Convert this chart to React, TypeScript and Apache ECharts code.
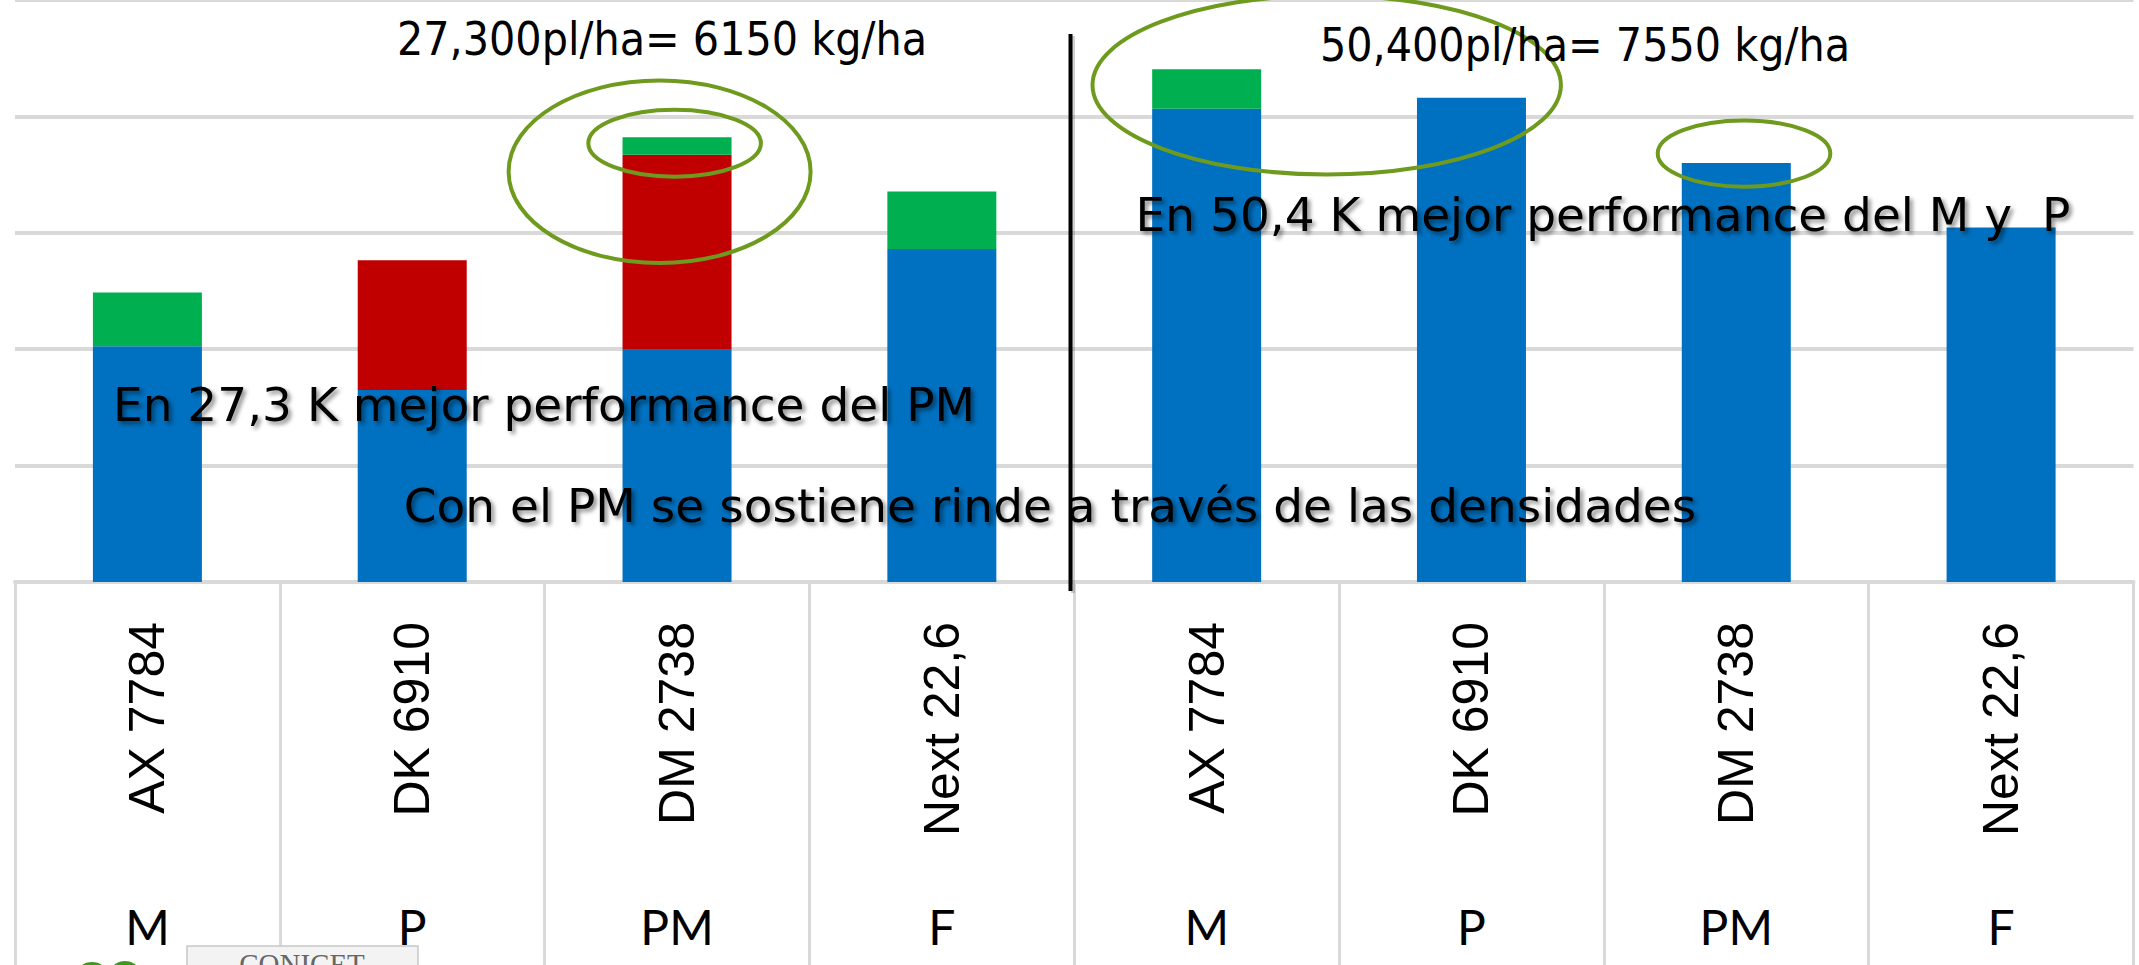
import React, { useEffect, useRef } from "react";
import * as echarts from "echarts";

const hybrids = ["AX 7784", "DK 6910", "DM 2738", "Next 22,6", "AX 7784", "DK 6910", "DM 2738", "Next 22,6"];
const types = ["M", "P", "PM", "F", "M", "P", "PM", "F"];
const blueValues = [4050, 3300, 3990, 5720, 8130, 8320, 7200, 6090];
const redValues = [0, 2230, 3350, 0, 0, 0, 0, 0];
const greenValues = [925, 0, 300, 990, 680, 0, 0, 0];
const yMax = 10000;
const yStep = 2000;

const title1 = "27,300pl/ha= 6150 kg/ha";
const title2 = "50,400pl/ha= 7550 kg/ha";
const note1 = "En 27,3 K mejor performance del PM";
const note2 = "Con el PM se sostiene rinde a través de las densidades";
const note3 = "En 50,4 K mejor performance del M y  P";

const GRID = "#d9d9d9";
const OLIVE = "#6E9A1E";

export default function App() {
  const ref = useRef<HTMLDivElement>(null);
  useEffect(() => {
    document.body.style.margin = "0";
    const chart = echarts.init(ref.current!, null, { renderer: "svg" });
    const shadowText = (text: string, x: number, y: number) => ({
      type: "text",
      x,
      y,
      z: 120,
      style: {
        text,
        fontSize: 47,
        fontFamily: "DejaVu Sans",
        fill: "#000",
        align: "center",
        verticalAlign: "middle",
        textShadowColor: "rgba(0,0,0,0.45)",
        textShadowBlur: 4,
        textShadowOffsetX: 3,
        textShadowOffsetY: 3,
      },
    });
    const ell = (cx: number, cy: number, rx: number, ry: number) => ({
      type: "ellipse",
      z: 110,
      shape: { cx, cy, rx, ry },
      style: { fill: "none", stroke: OLIVE, lineWidth: 4 },
    });
    chart.setOption({
      animation: false,
      backgroundColor: "#ffffff",
      grid: { left: 15, right: 5.5, top: -2, bottom: 383, containLabel: false },
      xAxis: [
        {
          type: "category",
          data: hybrids,
          position: "bottom",
          axisLine: { show: true, lineStyle: { color: GRID, width: 4 } },
          axisTick: { show: true, interval: 0, length: 383, lineStyle: { color: GRID, width: 3 } },
          axisLabel: {
            interval: 0,
            rotate: 90,
            margin: 40,
            fontSize: 50,
            fontFamily: "Liberation Sans",
            color: "#000",
          },
          splitLine: { show: false },
        },
        {
          type: "category",
          data: types,
          position: "bottom",
          offset: 0,
          axisLine: { show: false },
          axisTick: { show: false },
          axisLabel: {
            interval: 0,
            margin: 344,
            verticalAlign: "middle",
            fontSize: 48,
            fontFamily: "Lato",
            color: "#000",
          },
          splitLine: { show: false },
        },
      ],
      yAxis: {
        type: "value",
        min: 0,
        max: yMax,
        interval: yStep,
        axisLine: { show: false },
        axisTick: { show: false },
        axisLabel: { show: false },
        splitLine: { show: true, lineStyle: { color: GRID, width: 4 } },
      },
      series: [
        { name: "base", type: "bar", stack: "t", barWidth: 109, data: blueValues, itemStyle: { color: "#0070C0" } },
        { name: "red", type: "bar", stack: "t", barWidth: 109, data: redValues, itemStyle: { color: "#C00000" } },
        { name: "green", type: "bar", stack: "t", barWidth: 109, data: greenValues, itemStyle: { color: "#00B050" } },
      ],
      graphic: [
        {
          type: "text",
          x: 662,
          y: 39,
          z: 120,
          style: { text: title1, fontSize: 46, fontFamily: "DejaVu Sans Condensed", fill: "#000", align: "center", verticalAlign: "middle" },
        },
        {
          type: "text",
          x: 1585,
          y: 45,
          z: 120,
          style: { text: title2, fontSize: 46, fontFamily: "DejaVu Sans Condensed", fill: "#000", align: "center", verticalAlign: "middle" },
        },
        shadowText(note1, 544, 404),
        shadowText(note2, 1050, 505),
        shadowText(note3, 1603, 214),
        {
          type: "rect",
          z: 114,
          shape: { x: 1071, y: 36, width: 4, height: 557 },
          style: { fill: "rgba(0,0,0,0.18)" },
        },
        {
          type: "rect",
          z: 115,
          shape: { x: 1068.5, y: 34, width: 4, height: 557 },
          style: { fill: "#000" },
        },
        ell(659.6, 171.7, 151, 91.3),
        ell(674.6, 143.3, 86.3, 33.5),
        ell(1326.7, 85, 234.2, 89.5),
        ell(1744, 153.6, 86.3, 33.1),
        {
          type: "rect",
          z: 100,
          shape: { x: 187, y: 946, width: 231, height: 40 },
          style: { fill: "#f3f3f3", stroke: "#c8c8c8", lineWidth: 1.5 },
        },
        {
          type: "text",
          x: 302,
          y: 949,
          z: 101,
          style: { text: "CONICET", fontSize: 29, fontFamily: "Liberation Serif", fill: "#666", align: "center", verticalAlign: "top" },
        },
        { type: "circle", z: 100, shape: { cx: 92, cy: 980, r: 18 }, style: { fill: "#3C9A1C" } },
        { type: "circle", z: 100, shape: { cx: 125, cy: 978, r: 17 }, style: { fill: "#3C9A1C" } },
        { type: "circle", z: 100, shape: { cx: 152, cy: 980, r: 15 }, style: { fill: "#3C9A1C" } },
      ],
    });
    return () => chart.dispose();
  }, []);
  return <div ref={ref} style={{ position: "fixed", left: 0, top: 0, width: 2139, height: 965, background: "#fff" }} />;
}
